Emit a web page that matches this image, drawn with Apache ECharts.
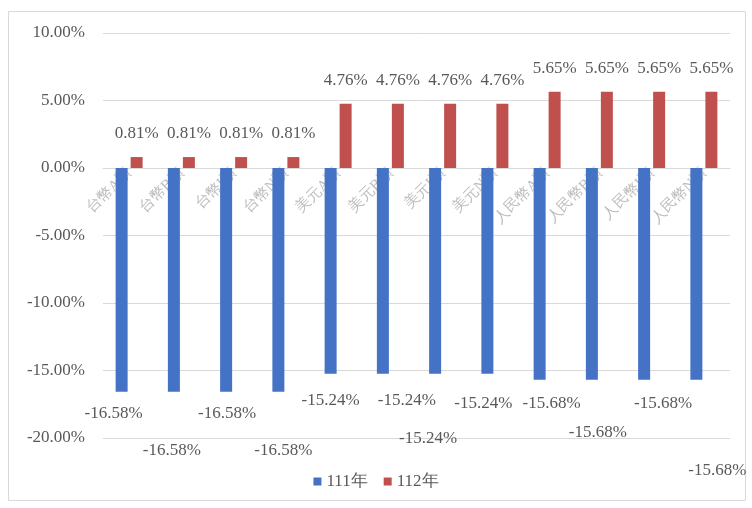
<!DOCTYPE html>
<html><head><meta charset="utf-8">
<script src="https://cdn.jsdelivr.net/npm/echarts@6/dist/echarts.min.js"></script>
<style>html,body{margin:0;padding:0;background:#fff}#c{width:752px;height:508px}</style>
</head><body><div id="c"></div>
<script>
var categories = ['台幣A類','台幣B類','台幣I類','台幣N類','美元A類','美元B類','美元I類','美元N類','人民幣A類','人民幣B類','人民幣I類','人民幣N類'];
var series111 = [-16.58,-16.58,-16.58,-16.58,-15.24,-15.24,-15.24,-15.24,-15.68,-15.68,-15.68,-15.68];
var series112 = [0.81,0.81,0.81,0.81,4.76,4.76,4.76,4.76,5.65,5.65,5.65,5.65];
var seriesNames = ['111年','112年'];
// label offsets (style only) for staggered blue labels
var labelOffsets111 = [[-8,9],[-2,46],[1,9],[5,46],[0,14],[24,14],[-7,52],[-4,17],[12,11],[6,40],[19,11],[21,78]];

var font = 'Liberation Serif';
var txt = '#595959';
var chart = echarts.init(document.getElementById('c'), null, {renderer:'canvas'});
chart.setOption({
  animation:false,
  backgroundColor:'#fff',
  graphic:[{type:'rect', shape:{x:8.5,y:11.5,width:737,height:489}, style:{fill:'none', stroke:'#d9d9d9', lineWidth:1}, silent:true}],
  grid:{left:103, right:22, top:33, bottom:70},
  legend:{
    bottom:13, left:'center', itemWidth:8, itemHeight:8, itemGap:16, icon:'rect',
    textStyle:{fontFamily:font, fontSize:17, color:txt},
    data:seriesNames
  },
  xAxis:{
    type:'category', data:categories, offset:-270,
    axisLine:{onZero:false, lineStyle:{color:'#d9d9d9'}},
    axisTick:{show:false},
    axisLabel:{rotate:45, interval:0, margin:3, fontFamily:font, fontSize:15, color:'#bdbdbd'},
    z:1
  },
  yAxis:{
    type:'value', min:-20, max:10, interval:5,
    axisLine:{show:false}, axisTick:{show:false},
    splitLine:{lineStyle:{color:'#d9d9d9'}},
    axisLabel:{formatter:function(v){return v.toFixed(2)+'%';}, fontFamily:font, fontSize:17, color:txt, margin:18}
  },
  series:[
    {name:seriesNames[0], type:'bar', barWidth:12, barGap:'25%', itemStyle:{color:'#4472c4'}, z:3,
     data:series111.map(function(v,i){return {value:v, label:{offset:labelOffsets111[i]}};}),
     label:{show:true, position:'bottom', distance:4, fontFamily:font, fontSize:17, color:txt,
       formatter:function(p){return p.value.toFixed(2)+'%';}}},
    {name:seriesNames[1], type:'bar', barWidth:12, itemStyle:{color:'#c0504d'}, z:3,
     data:series112,
     label:{show:true, position:'top', distance:15, fontFamily:font, fontSize:17, color:txt,
       formatter:function(p){return p.value.toFixed(2)+'%';}}}
  ]
});
</script></body></html>
